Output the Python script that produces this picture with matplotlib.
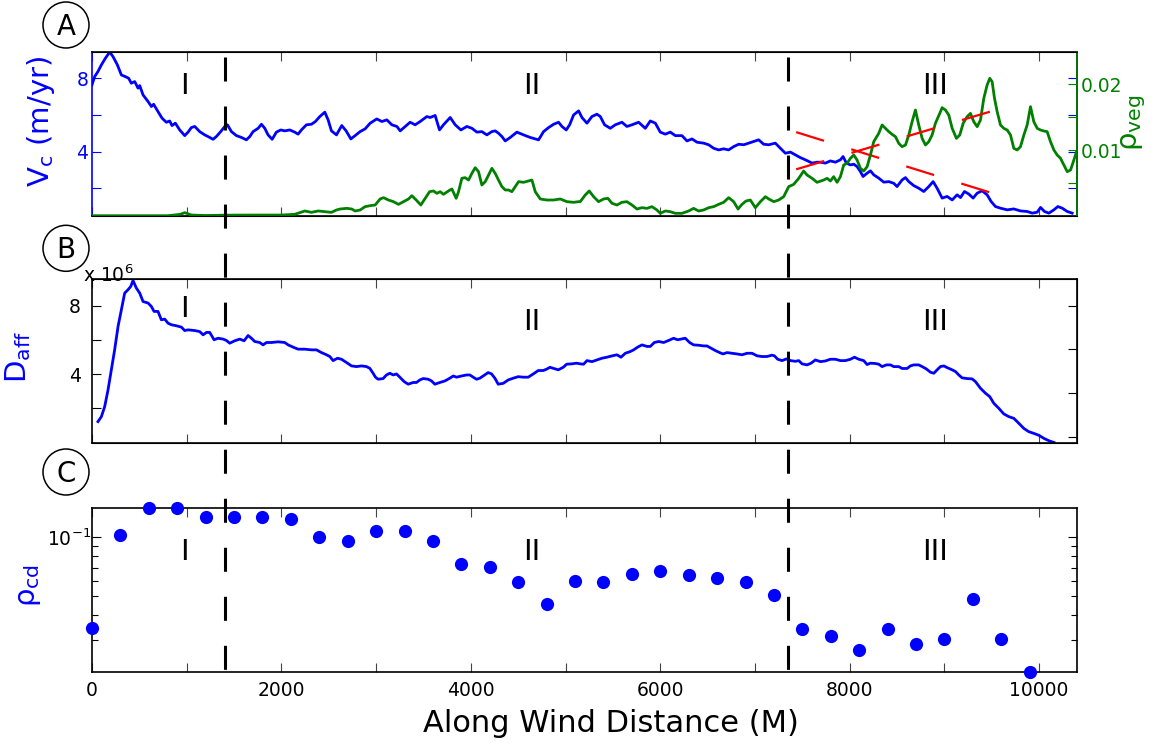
import numpy as np
import matplotlib
matplotlib.use("Agg")
import matplotlib.pyplot as plt
import matplotlib.transforms as mtransforms
from matplotlib.lines import Line2D
from matplotlib.patches import Circle
from matplotlib.ticker import (FixedLocator, MultipleLocator, NullFormatter,
                               FormatStrFormatter, LogLocator)

plt.rcParams['font.family'] = 'DejaVu Sans'
plt.rcParams['mathtext.fontset'] = 'dejavusans'
plt.rcParams['lines.scale_dashes'] = False

BLUE = (0, 0, 1)
GREEN = (0, 0.5, 0)
RED = (1, 0, 0)

# --- panel A: crest speed V_c (m/yr) ---
vc_x = [0, 28, 63, 99, 141, 187, 222, 268, 310, 352, 387, 415, 451, 486, 504, 539,
        592, 627, 651, 697, 740, 785, 820, 845, 880, 926, 979, 1014, 1049, 1085,
        1137, 1190, 1243, 1278, 1313, 1359, 1402, 1430, 1472, 1525, 1578, 1630,
        1666, 1701, 1754, 1789, 1824, 1859, 1902, 1947, 1993, 2035, 2088, 2141,
        2176, 2211, 2264, 2317, 2359, 2405, 2458, 2493, 2528, 2581, 2637, 2683,
        2733, 2778, 2831, 2884, 2937, 3007, 3060, 3113, 3166, 3219, 3254, 3307,
        3359, 3412, 3465, 3535, 3571, 3623, 3669, 3711, 3782, 3835, 3895, 3958,
        4011, 4064, 4116, 4169, 4222, 4257, 4292, 4328, 4363, 4416, 4486, 4557,
        4627, 4680, 4715, 4768, 4821, 4874, 4926, 4962, 5007, 5043, 5085, 5138,
        5173, 5226, 5278, 5331, 5367, 5412, 5472, 5525, 5595, 5648, 5701, 5771,
        5842, 5895, 5948, 6000, 6053, 6106, 6159, 6229, 6282, 6335, 6388, 6458,
        6511, 6564, 6616, 6669, 6722, 6775, 6828, 6881, 6933, 6986, 7039, 7092,
        7145, 7215, 7268, 7321, 7374, 7427, 7479, 7532, 7603, 7655, 7691, 7743,
        7796, 7849, 7902, 7930, 7965, 8008, 8043, 8078, 8113, 8141, 8184, 8219,
        8254, 8307, 8360, 8413, 8465, 8500, 8553, 8589, 8624, 8677, 8729, 8782,
        8835, 8881, 8923, 8976, 9029, 9082, 9134, 9170, 9212, 9258, 9303, 9346,
        9398, 9451, 9494, 9539, 9592, 9663, 9733, 9803, 9874, 9927, 9980, 10015,
        10057, 10103, 10156, 10198, 10244, 10297, 10349]
vc = [7.64, 8.09, 8.37, 8.73, 9.09, 9.43, 9.18, 8.73, 8.18, 8.09, 8.00, 7.73, 7.82,
      7.46, 7.60, 7.09, 6.73, 6.46, 6.58, 6.18, 5.82, 5.60, 5.67, 5.42, 5.55, 5.18,
      4.87, 5.06, 5.31, 5.37, 5.09, 4.91, 4.77, 4.67, 4.82, 5.09, 5.37, 5.46, 5.09,
      4.87, 4.77, 4.64, 4.82, 5.09, 5.27, 5.49, 5.27, 4.91, 4.67, 5.06, 5.18, 5.13,
      5.18, 5.06, 4.95, 5.18, 5.46, 5.49, 5.64, 5.91, 6.15, 5.73, 5.13, 4.91, 5.42,
      5.13, 4.69, 4.87, 5.09, 5.24, 5.55, 5.78, 5.64, 5.73, 5.46, 5.37, 5.13, 5.37,
      5.60, 5.46, 5.64, 5.91, 5.86, 5.97, 5.18, 5.46, 5.86, 5.46, 5.18, 5.37, 5.27,
      5.06, 5.09, 4.91, 5.09, 5.13, 5.00, 4.82, 4.58, 4.77, 5.06, 4.91, 4.77, 4.69,
      4.64, 5.09, 5.31, 5.49, 5.60, 5.37, 5.18, 5.46, 6.00, 6.22, 5.86, 5.55, 5.91,
      6.04, 5.91, 5.46, 5.27, 5.46, 5.60, 5.37, 5.46, 5.60, 5.27, 5.67, 5.55, 5.06,
      4.95, 5.06, 4.87, 4.87, 4.58, 4.69, 4.51, 4.46, 4.37, 4.18, 4.09, 4.15, 4.09,
      4.27, 4.40, 4.37, 4.46, 4.55, 4.64, 4.40, 4.37, 4.46, 4.18, 3.91, 3.97, 3.82,
      3.67, 3.55, 3.37, 3.42, 3.42, 3.37, 3.49, 3.42, 3.55, 3.73, 3.37, 3.27, 3.31,
      3.18, 2.91, 2.64, 2.82, 2.95, 2.73, 2.55, 2.33, 2.36, 2.27, 2.09, 2.45, 2.58,
      2.36, 2.14, 2.00, 1.82, 2.09, 2.36, 2.00, 1.46, 1.55, 1.36, 1.64, 1.49, 1.82,
      1.68, 1.46, 1.73, 1.86, 1.64, 1.27, 1.00, 0.91, 0.82, 0.87, 0.76, 0.73, 0.64,
      0.69, 0.95, 0.73, 0.64, 0.82, 1.00, 0.91, 0.73, 0.64]

# --- panel A: vegetation density rho_veg ---
veg_x = [0, 800, 930, 980, 1050, 1200, 1400, 1700, 2000, 2141, 2247, 2317, 2388,
         2458, 2528, 2581, 2620, 2690, 2743, 2778, 2831, 2884, 2937, 2990, 3042,
         3078, 3130, 3183, 3236, 3289, 3342, 3377, 3423, 3472, 3518, 3564, 3606,
         3641, 3676, 3711, 3764, 3800, 3845, 3870, 3905, 3940, 3976, 4011, 4046,
         4081, 4116, 4152, 4187, 4222, 4257, 4292, 4328, 4363, 4398, 4433, 4469,
         4504, 4557, 4609, 4645, 4680, 4733, 4803, 4874, 4944, 5014, 5085, 5138,
         5155, 5208, 5250, 5296, 5349, 5402, 5447, 5490, 5543, 5595, 5648, 5701,
         5754, 5807, 5860, 5912, 5965, 6000, 6053, 6106, 6159, 6229, 6300, 6352,
         6405, 6458, 6511, 6564, 6616, 6669, 6722, 6775, 6821, 6863, 6905, 6951,
         7004, 7057, 7110, 7145, 7198, 7250, 7303, 7356, 7409, 7462, 7514, 7550,
         7603, 7655, 7726, 7761, 7796, 7831, 7867, 7902, 7937, 7972, 8008, 8043,
         8078, 8113, 8148, 8184, 8219, 8254, 8307, 8342, 8377, 8413, 8448, 8483,
         8518, 8553, 8589, 8624, 8659, 8694, 8729, 8765, 8800, 8835, 8870, 8905,
         8951, 8976, 9011, 9046, 9082, 9127, 9162, 9198, 9240, 9275, 9310, 9346,
         9381, 9416, 9451, 9479, 9504, 9529, 9557, 9592, 9627, 9663, 9698, 9733,
         9768, 9803, 9839, 9874, 9909, 9944, 9980, 10015, 10050, 10085, 10120,
         10156, 10191, 10226, 10261, 10297, 10332, 10367, 10395]
veg = [0.0, 0.0, 0.0002, 0.00046, 0.0001, 0.00003, 0.00008, 0.0001, 0.0001,
       0.00021, 0.00072, 0.00051, 0.00072, 0.00061, 0.00051, 0.00087, 0.00102,
       0.00112, 0.00102, 0.00072, 0.00087, 0.00138, 0.00153, 0.00163, 0.00255,
       0.00275, 0.00239, 0.00214, 0.00173, 0.00214, 0.00255, 0.00305, 0.00239,
       0.00163, 0.00265, 0.00366, 0.00377, 0.00341, 0.00366, 0.00326, 0.00377,
       0.00407, 0.00265, 0.00366, 0.0057, 0.0058, 0.00544, 0.00646, 0.00732,
       0.00671, 0.00468, 0.00519, 0.0062, 0.00722, 0.00646, 0.00544, 0.00443,
       0.00392, 0.00392, 0.00366, 0.00443, 0.00519, 0.00509, 0.00529, 0.00544,
       0.00366, 0.00255, 0.00239, 0.00239, 0.00255, 0.00214, 0.00204, 0.00214,
       0.00214, 0.00316, 0.00377, 0.0029, 0.00214, 0.00255, 0.00265, 0.00189,
       0.00163, 0.00204, 0.00214, 0.00163, 0.00102, 0.00122, 0.00112, 0.00138,
       0.00087, 0.00036, 0.00072, 0.00061, 0.00036, 0.00036, 0.00072, 0.00112,
       0.00072, 0.00087, 0.00122, 0.00138, 0.00173, 0.00204, 0.00275, 0.00214,
       0.00102, 0.00173, 0.00224, 0.00239, 0.00122, 0.00214, 0.0029, 0.00255,
       0.00214, 0.00239, 0.0029, 0.00443, 0.00478, 0.0057, 0.00681, 0.0062,
       0.0057, 0.00509, 0.00544, 0.0057, 0.00529, 0.00595, 0.00509, 0.00595,
       0.00773, 0.00798, 0.00875, 0.00925, 0.00849, 0.00722, 0.00681, 0.00747,
       0.00925, 0.01129, 0.01256, 0.01383, 0.01332, 0.01281, 0.0124, 0.01205,
       0.01103, 0.01052, 0.01078, 0.0123, 0.01433, 0.01611, 0.01383, 0.01179,
       0.01078, 0.01129, 0.0123, 0.01408, 0.0156, 0.01647, 0.01611, 0.01535,
       0.01332, 0.01179, 0.0123, 0.01408, 0.0151, 0.0156, 0.01433, 0.01357,
       0.01459, 0.01789, 0.01992, 0.02094, 0.02043, 0.01789, 0.01586, 0.01383,
       0.01332, 0.01306, 0.0123, 0.01027, 0.01002, 0.01052, 0.0123, 0.01383,
       0.01662, 0.01433, 0.01332, 0.01306, 0.01291, 0.01281, 0.01129, 0.01002,
       0.00925, 0.00875, 0.00773, 0.00671, 0.00697, 0.00849, 0.00976]

# trend lines in zone III
fit_x = [7435, 9505]
fit_veg = [0.00707, 0.01596]
fit_vc = [5.06, 1.73]

# --- panel B: D_aff (x 10^6) ---
daff_x = [63, 99, 134, 169, 204, 239, 275, 310, 345, 380, 409, 433, 468, 504, 539,
          592, 627, 655, 697, 732, 768, 803, 838, 891, 944, 979, 1014, 1085, 1137,
          1173, 1208, 1243, 1289, 1331, 1384, 1419, 1454, 1507, 1560, 1606, 1648,
          1683, 1718, 1771, 1806, 1842, 1894, 1965, 2035, 2071, 2123, 2176, 2247,
          2317, 2370, 2423, 2476, 2511, 2546, 2592, 2634, 2687, 2740, 2792, 2845,
          2898, 2933, 2968, 2993, 3021, 3074, 3109, 3145, 3180, 3215, 3250, 3296,
          3338, 3391, 3426, 3462, 3497, 3550, 3585, 3620, 3673, 3726, 3778, 3814,
          3849, 3902, 3954, 3990, 4025, 4060, 4095, 4130, 4183, 4219, 4254, 4289,
          4342, 4395, 4447, 4500, 4553, 4606, 4659, 4712, 4764, 4800, 4835, 4870,
          4923, 4976, 5011, 5064, 5116, 5155, 5190, 5226, 5279, 5331, 5384, 5437,
          5507, 5543, 5585, 5631, 5683, 5719, 5761, 5807, 5860, 5895, 5937, 5983,
          6036, 6088, 6141, 6183, 6229, 6264, 6310, 6352, 6405, 6458, 6493, 6536,
          6581, 6627, 6662, 6705, 6757, 6810, 6863, 6916, 6969, 7022, 7074, 7127,
          7180, 7205, 7240, 7286, 7331, 7374, 7427, 7462, 7497, 7550, 7592, 7638,
          7691, 7743, 7796, 7849, 7902, 7955, 8008, 8050, 8096, 8148, 8184, 8219,
          8272, 8307, 8342, 8388, 8430, 8465, 8518, 8553, 8606, 8641, 8677, 8729,
          8765, 8810, 8853, 8888, 8923, 8958, 8994, 9029, 9082, 9117, 9152, 9187,
          9240, 9293, 9328, 9381, 9434, 9479, 9522, 9574, 9627, 9680, 9733, 9786,
          9839, 9891, 9944, 9997, 10050, 10103, 10156]
daff = [1.22, 1.51, 2.10, 3.07, 4.25, 5.42, 6.79, 7.77, 8.74, 8.94, 9.13, 9.48,
        9.04, 8.74, 8.25, 8.16, 7.96, 7.67, 7.67, 7.18, 7.22, 6.98, 6.89, 6.83,
        6.75, 6.55, 6.59, 6.55, 6.49, 6.30, 6.44, 6.44, 6.01, 6.10, 6.05, 5.97,
        5.81, 5.95, 6.05, 5.95, 6.26, 6.10, 5.91, 5.85, 5.71, 5.85, 5.85, 5.89,
        5.85, 5.71, 5.58, 5.46, 5.46, 5.42, 5.42, 5.26, 5.13, 5.03, 4.79, 4.93,
        4.87, 4.68, 4.48, 4.44, 4.48, 4.44, 4.34, 4.05, 3.82, 3.70, 3.74, 3.95,
        4.05, 3.95, 4.01, 3.82, 3.56, 3.41, 3.51, 3.51, 3.66, 3.74, 3.70, 3.60,
        3.41, 3.51, 3.60, 3.76, 3.89, 3.82, 3.89, 3.95, 3.95, 3.82, 3.70, 3.76,
        3.89, 4.09, 4.01, 3.76, 3.41, 3.46, 3.66, 3.76, 3.85, 3.82, 3.82, 4.01,
        4.21, 4.21, 4.29, 4.40, 4.34, 4.25, 4.40, 4.58, 4.60, 4.64, 4.60, 4.58,
        4.79, 4.73, 4.83, 4.93, 4.99, 5.09, 5.13, 4.99, 5.22, 5.32, 5.42, 5.58,
        5.71, 5.62, 5.62, 5.85, 5.91, 5.85, 5.97, 6.10, 6.01, 6.06, 6.10, 5.85,
        5.71, 5.69, 5.65, 5.65, 5.52, 5.38, 5.26, 5.18, 5.26, 5.22, 5.18, 5.13,
        5.22, 5.22, 5.07, 5.03, 5.03, 5.11, 5.07, 4.87, 4.79, 4.89, 4.79, 4.75,
        4.79, 4.60, 4.54, 4.64, 4.83, 4.73, 4.77, 4.87, 4.87, 4.79, 4.79, 4.87,
        4.99, 4.87, 4.79, 4.56, 4.64, 4.62, 4.58, 4.44, 4.54, 4.54, 4.44, 4.44,
        4.33, 4.33, 4.48, 4.54, 4.54, 4.44, 4.30, 4.11, 4.05, 4.25, 4.44, 4.48,
        4.38, 4.25, 4.15, 3.95, 3.78, 3.74, 3.72, 3.56, 3.17, 2.88, 2.68, 2.29,
        2.00, 1.67, 1.51, 1.41, 1.12, 0.82, 0.63, 0.53, 0.42, 0.24, 0.10, 0.00]

# --- panel C: rho_cd sampled every 300 m ---
rho_x = [0, 300, 600, 900, 1200, 1500, 1800, 2100, 2400, 2700, 3000, 3300, 3600,
         3900, 4200, 4500, 4800, 5100, 5400, 5700, 6000, 6300, 6600, 6900, 7200,
         7500, 7800, 8100, 8400, 8700, 9000, 9300, 9600, 9900]
rho_cd = [0.0346, 0.102, 0.141, 0.140, 0.126, 0.127, 0.126, 0.124, 0.100, 0.095,
          0.107, 0.107, 0.095, 0.0727, 0.0703, 0.059, 0.0457, 0.0597, 0.059,
          0.0648, 0.067, 0.064, 0.062, 0.059, 0.0509, 0.0342, 0.0313, 0.0268,
          0.0342, 0.0287, 0.0303, 0.0484, 0.0303, 0.0207]

zone_edges = [1400, 7350]
zone_names = ['I', 'II', 'III']
zone_x = [972, 4638, 8905]

W, H = 1165, 746
fig = plt.figure(figsize=(W / 100, H / 100), dpi=100)


def px_axes(left, top, right, bottom):
    return fig.add_axes([left / W, 1 - bottom / H, (right - left) / W, (bottom - top) / H])


ax1 = px_axes(92, 51.7, 1077, 215.7)
ax2 = px_axes(92, 279.3, 1077, 443.3)
ax3 = px_axes(92, 507.7, 1077, 671.7)
ax1r = ax1.twinx()
ax2r = ax2.twinx()

TICK = 13.5
for ax in (ax1, ax2, ax3):
    ax.set_xlim(0, 10400)
    ax.xaxis.set_major_locator(MultipleLocator(2000))
    ax.xaxis.set_minor_locator(MultipleLocator(1000))
    ax.tick_params(axis='x', which='both', direction='in', top=True, bottom=True,
                   length=6.5, width=0.8, color='#444444', labelsize=TICK, pad=6.5)
    for s in ax.spines.values():
        s.set_linewidth(1.2)
ax1.tick_params(axis='x', labelbottom=False)
ax2.tick_params(axis='x', labelbottom=False)

# panel A
ax1.plot(vc_x, vc, color=BLUE, lw=2.0)
ax1.plot(fit_x, fit_vc, color=RED, lw=1.6, dashes=(21, 20.5))
ax1.set_ylim(0.5, 9.45)
ax1.yaxis.set_major_locator(FixedLocator([4, 8]))
ax1.yaxis.set_minor_locator(FixedLocator([2, 6]))
ax1.yaxis.set_major_formatter(FormatStrFormatter('%d'))
ax1.tick_params(axis='y', which='both', direction='in', left=True, right=True,
                length=6.5, width=0.8, colors=BLUE, labelsize=TICK, pad=2.7)
ax1.spines['left'].set_color(BLUE)
ax1.set_ylabel('V$_{\\mathregular{c}}$ (m/yr)', color=BLUE, fontsize=21)
ax1.yaxis.set_label_coords(-0.036, 0.577)

ax1r.plot(veg_x, veg, color=GREEN, lw=2.0)
ax1r.plot(fit_x, fit_veg, color=RED, lw=1.6, dashes=(21, 20.5))
ax1r.set_ylim(0, 0.025)
ax1r.yaxis.set_major_locator(FixedLocator([0.01, 0.02]))
ax1r.yaxis.set_minor_locator(FixedLocator([0.005, 0.015]))
ax1r.yaxis.set_major_formatter(FormatStrFormatter('%.2f'))
ax1r.tick_params(axis='y', which='both', direction='in', length=6.5, width=0.8,
                 colors=GREEN, labelsize=TICK, pad=2.4)
ax1r.spines['right'].set_color(GREEN)
ax1r.spines['right'].set_linewidth(1.2)
ax1r.spines['left'].set_visible(False)
ax1r.set_ylabel('ρ$_{\\mathregular{veg}}$', color=GREEN, fontsize=21)
ax1r.yaxis.set_label_coords(1.0426, 0.565)

# panel B
ax2.plot(daff_x, daff, color=BLUE, lw=2.0)
ax2.set_ylim(-0.05, 9.55)
ax2.yaxis.set_major_locator(FixedLocator([4, 8]))
ax2.yaxis.set_minor_locator(FixedLocator([2, 6]))
ax2.yaxis.set_major_formatter(FormatStrFormatter('%d'))
ax2.tick_params(axis='y', which='both', direction='in', length=6.5, width=0.8,
                labelsize=TICK, pad=8)
ax2.set_ylabel('D$_{\\mathregular{aff}}$', color=BLUE, fontsize=21)
ax2.yaxis.set_label_coords(-0.0596, 0.528)
fig.text(83 / W, 1 - 281.7 / H, 'x 10$^{6}$', fontsize=TICK, va='baseline')

ax2r.set_ylim(-0.15, 3.6)
ax2r.set_yticks([0, 1, 2, 3])
ax2r.tick_params(axis='y', direction='in', length=6.5, width=0.8, labelright=False)
ax2r.spines['left'].set_visible(False)

# panel C
ax3.plot(rho_x, rho_cd, 'o', color=BLUE, ms=9.5, mew=0, clip_on=False, zorder=5)
ax3.set_yscale('log')
ax3.set_ylim(min(rho_cd), max(rho_cd))
ax3.yaxis.set_major_locator(LogLocator(base=10))
ax3.yaxis.set_minor_locator(LogLocator(base=10, subs=np.arange(2, 10)))
ax3.yaxis.set_minor_formatter(NullFormatter())
ax3.tick_params(axis='y', which='major', direction='in', left=True, right=True,
                length=6.5, width=0.8, labelsize=TICK, pad=0.5)
ax3.tick_params(axis='y', which='minor', direction='in', left=True, right=True,
                length=4, width=0.8)
ax3.set_ylabel('ρ$_{\\mathregular{cd}}$', color=BLUE, fontsize=21)
ax3.yaxis.set_label_coords(-0.0494, 0.523)

fig.text(611 / W, 1 - 724 / H, 'Along Wind Distance (M)', fontsize=22,
         ha='center', va='center')

# zone numerals
numeral_y = {ax1: [0.740, 0.740, 0.740], ax2: [0.772, 0.691, 0.691],
             ax3: [0.681, 0.681, 0.681]}
for ax, ys in numeral_y.items():
    tr = mtransforms.blended_transform_factory(ax.transData, ax.transAxes)
    for name, xz, yz in zip(zone_names, zone_x, ys):
        ax.text(xz, yz, name, transform=tr, ha='center', va='baseline', fontsize=21)

# zone boundaries running through all three panels
tr_fig = mtransforms.blended_transform_factory(ax3.transData, fig.transFigure)
for xb in zone_edges:
    fig.add_artist(Line2D([xb, xb], [1 - 56.7 / H, 1 - 671.7 / H], transform=tr_fig,
                          color='k', lw=2.2, dashes=(17.3, 18), zorder=10))

# circled panel letters
for letter, cy in (('A', 25), ('B', 248.3), ('C', 472)):
    fig.add_artist(Circle((66 / 100, (H - cy) / 100), 0.23, transform=fig.dpi_scale_trans,
                          fill=False, ec='k', lw=1.1))
    fig.text(66 / W, 1 - (cy + 10) / H, letter, fontsize=20, ha='center', va='baseline')

fig.savefig('out.png', dpi=100)
